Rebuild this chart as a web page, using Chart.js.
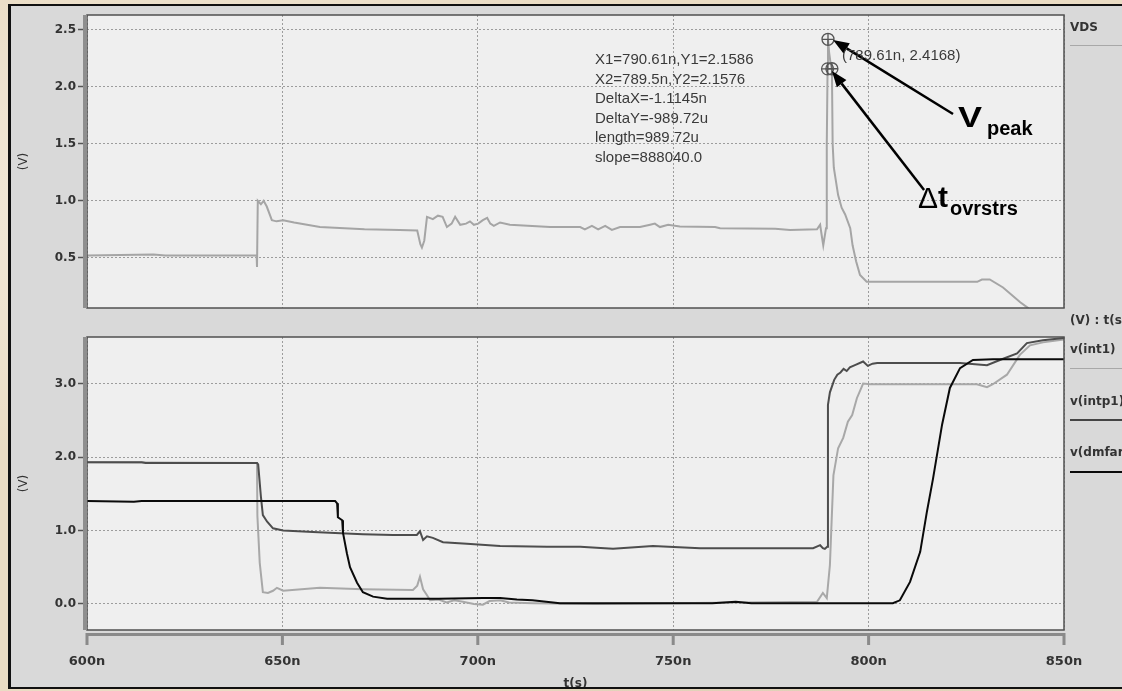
<!DOCTYPE html>
<html>
<head>
<meta charset="utf-8">
<script src="https://cdn.jsdelivr.net/npm/chart.js@4.4.1/dist/chart.umd.min.js"></script>
<style>
  html, body { margin: 0; padding: 0; }
  body {
    width: 1122px; height: 691px; overflow: hidden; position: relative;
    background:
      radial-gradient(ellipse at 20% 30%, rgba(255,255,255,0.5), rgba(255,255,255,0) 40%),
      radial-gradient(ellipse at 70% 80%, rgba(190,170,140,0.35), rgba(190,170,140,0) 45%),
      #eadcc4;
    font-family: 'Liberation Sans', Arial, sans-serif;
  }
  #panel { position: absolute; left: 8px; top: 4px; width: 1120px; height: 685px; background: #d9d9d9; }
  #frame { position: absolute; left: 8px; top: 4px; width: 1120px; height: 685px; box-sizing: border-box;
           border: 2px solid #111; border-left-width: 3px; pointer-events: none; }
  canvas { position: absolute; left: 0; }
  #topCanvas { top: 0; }
  #botCanvas { top: 320px; }
  .txt { position: absolute; white-space: nowrap; line-height: 1; }
  .readout { position: absolute; left: 595px; top: 49px; font-size: 15px; line-height: 19.5px; color: #3a3a3a; white-space: pre; }
  .leg { position: absolute; left: 1070px; font: bold 12px 'DejaVu Sans', sans-serif; line-height: 1; color: #333; white-space: nowrap; }
  .legline { position: absolute; left: 1070px; width: 60px; }
</style>
</head>
<body>
<div id="panel"></div>
<canvas id="topCanvas" width="1122" height="320"></canvas>
<canvas id="botCanvas" width="1122" height="371"></canvas>

<div class="readout" id="readout"></div>
<div class="txt" style="left:842px; top:47px; font-size:15px; color:#3a3a3a;">(789.61n, 2.4168)</div>

<div class="txt" style="left:958px; top:102px; font-size:30px; font-weight:bold; color:#000; transform:scaleX(1.2); transform-origin:left top;">V</div>
<div class="txt" style="left:987px; top:118px; font-size:20px; font-weight:bold; color:#000;">peak</div>
<div class="txt" style="left:918px; top:183px; font-size:30px; color:#000;">&Delta;</div>
<div class="txt" style="left:938px; top:182px; font-size:30px; font-weight:bold; color:#000;">t</div>
<div class="txt" style="left:950px; top:198px; font-size:20px; font-weight:bold; color:#000;">ovrstrs</div>

<div id="legend"></div>
<div id="frame"></div>

<script>
// ---- axis ticks ----
const xTicks = [600, 650, 700, 750, 800, 850];
const xTickLabels = ['600n', '650n', '700n', '750n', '800n', '850n'];
const topYTicks = [0.5, 1.0, 1.5, 2.0, 2.5];
const botYTicks = [0.0, 1.0, 2.0, 3.0];

// ---- VDS (top panel), time in ns ----
const vdsT = [
  600, 617, 620, 643.4, 643.5, 643.7, 644.5, 645.2, 646.0, 647.3,
  648.5, 650.2, 653.0, 659.6, 671.0, 680.0, 684.5, 685.3, 685.7, 686.3,
  687.0, 688.5, 689.8, 691.0, 692.1, 693.3, 694.2, 695.5, 697.0, 698.0,
  699.0, 700.1, 701.3, 702.4, 703.2, 704.1, 705.7, 708.2, 718.5, 726.2,
  727.4, 729.2, 730.8, 732.6, 734.3, 736.4, 741.5, 744.1, 745.3, 746.6,
  748.7, 751.7, 760.7, 762.0, 776.1, 779.9, 786.8, 787.6, 787.9, 788.4,
  789.1, 789.3, 789.5, 789.61, 789.9, 790.3, 790.61, 790.8, 791.1, 792.2,
  793.1, 794.0, 795.3, 795.9, 796.8, 797.8, 799.5, 810.0, 827.8, 829.0,
  831.0, 834.4, 838.8, 840.8, 841.5
];
const vdsV = [
  0.52, 0.53, 0.52, 0.52, 0.42, 1.00, 0.97, 1.00, 0.95, 0.83,
  0.82, 0.83, 0.81, 0.77, 0.75, 0.745, 0.74, 0.62, 0.59, 0.65,
  0.86, 0.84, 0.87, 0.86, 0.77, 0.80, 0.86, 0.79, 0.80, 0.82,
  0.79, 0.80, 0.83, 0.85, 0.80, 0.78, 0.81, 0.79, 0.77, 0.77,
  0.75, 0.78, 0.75, 0.78, 0.745, 0.77, 0.77, 0.79, 0.80, 0.77,
  0.79, 0.775, 0.77, 0.76, 0.755, 0.745, 0.75, 0.79, 0.72, 0.61,
  0.76, 1.50, 2.1576, 2.4168, 2.30, 2.20, 2.1586, 1.50, 1.29, 1.05,
  0.94, 0.88, 0.76, 0.61, 0.47, 0.35, 0.29, 0.29, 0.29, 0.31,
  0.31, 0.24, 0.11, 0.06, 0.0
];

// cursor points
const cursorT = [789.61, 789.5, 790.61];
const cursorV = [2.4168, 2.1576, 2.1586];

// annotation arrows (data coords)
const arrowTailT = [821.6, 814.2];
const arrowTailV = [1.762, 1.095];
const arrowHeadT = [790.9, 790.6];
const arrowHeadV = [2.411, 2.139];

const readoutLines = [
  'X1=790.61n,Y1=2.1586',
  'X2=789.5n,Y2=2.1576',
  'DeltaX=-1.1145n',
  'DeltaY=-989.72u',
  'length=989.72u',
  'slope=888040.0'
];

// ---- bottom panel ----
const int1T = [
  600, 643.5, 643.6, 644.2, 645.0, 646.3, 647.6, 648.6, 650.2, 659.6,
  670.6, 683.4, 684.5, 685.2, 686.0, 687.0, 687.8, 690.0, 692.0, 694.0,
  696.2, 699.0, 701.3, 703.0, 705.7, 708.0, 714.1, 730.0, 786.8, 788.3,
  789.3, 790.1, 791.0, 792.2, 793.5, 794.7, 795.8, 797.0, 798.6, 800.4,
  827.7, 830.3, 831.8, 835.4, 838.7, 841.3, 844.6, 850
];
const int1V = [
  1.93, 1.92, 1.20, 0.56, 0.16, 0.15, 0.18, 0.22, 0.18, 0.22,
  0.20, 0.19, 0.25, 0.37, 0.20, 0.12, 0.05, 0.06, 0.02, 0.05,
  0.03, 0.00, -0.01, 0.04, 0.05, 0.02, 0.01, 0.00, 0.03, 0.15,
  0.08, 0.53, 1.75, 2.12, 2.26, 2.48, 2.57, 2.80, 3.00, 2.99,
  2.99, 2.95, 2.99, 3.12, 3.39, 3.52, 3.56, 3.60
];

const intp1T = [
  600, 614, 615, 643.5, 643.8, 644.5, 645.0, 646.1, 647.6, 650.2,
  657.8, 670.6, 678.3, 684.4, 685.2, 686.0, 687.0, 688.5, 691.1, 697.2,
  705.7, 717.7, 726.2, 734.6, 744.8, 756.9, 772.2, 785.8, 787.6, 788.3,
  788.8, 789.4, 789.6, 790.1, 791.2, 792.0, 792.8, 793.6, 794.4, 795.2,
  796.5, 798.6, 799.8, 801.0, 802.2, 823.4, 830.3, 833.6, 838.0, 840.5,
  844.6, 850
];
const intp1V = [
  1.93, 1.93, 1.92, 1.92, 1.90, 1.46, 1.21, 1.12, 1.03, 1.00,
  0.98, 0.95, 0.94, 0.94, 0.99, 0.87, 0.92, 0.90, 0.84, 0.82,
  0.79, 0.78, 0.78, 0.75, 0.79, 0.76, 0.76, 0.76, 0.80, 0.76,
  0.75, 0.78, 2.71, 2.88, 3.05, 3.12, 3.15, 3.20, 3.17, 3.22,
  3.25, 3.30, 3.24, 3.27, 3.28, 3.28, 3.25, 3.32, 3.41, 3.55,
  3.59, 3.62
];

const dmfarT = [
  600, 612, 614, 663.5, 664.0, 664.2, 665.3, 665.5, 666.5, 667.3,
  669.1, 670.6, 673.2, 676.8, 683.4, 690.0, 701.3, 705.7, 710.0, 714.0,
  721.0, 760.0, 766.0, 770.0, 806.2, 808.0, 810.6, 813.2, 814.9, 816.5,
  818.8, 820.8, 823.4, 826.7, 831.8, 850
];
const dmfarV = [
  1.40, 1.39, 1.40, 1.40, 1.37, 1.18, 1.14, 0.97, 0.69, 0.50,
  0.29, 0.16, 0.10, 0.07, 0.07, 0.07, 0.08, 0.08, 0.06, 0.05,
  0.01, 0.01, 0.03, 0.01, 0.01, 0.05, 0.30, 0.71, 1.25, 1.71,
  2.44, 2.94, 3.21, 3.32, 3.33, 3.33
];

const legendItems = [
  { label: 'VDS', y: 21, lineY: 45, color: '#a8a8a8', w: 1 },
  { label: '(V) : t(s)', y: 314, lineY: null },
  { label: 'v(int1)', y: 343, lineY: 368, color: '#a8a8a8', w: 1.5 },
  { label: 'v(intp1)', y: 395, lineY: 419, color: '#444', w: 2 },
  { label: 'v(dmfar)', y: 446, lineY: 471, color: '#0a0a0a', w: 2 }
];

const pts = (ts, vs) => ts.map((t, i) => ({ x: t, y: vs[i] }));

// ---- text bits ----
document.getElementById('readout').textContent = readoutLines.join('\n');
const legEl = document.getElementById('legend');
legendItems.forEach(it => {
    const d = document.createElement('div');
    d.className = 'leg';
    d.style.top = it.y + 'px';
    d.textContent = it.label;
    legEl.appendChild(d);
    if (it.lineY !== null) {
        const l = document.createElement('div');
        l.className = 'legline';
        l.style.top = it.lineY + 'px';
        l.style.borderTop = it.w + 'px solid ' + it.color;
        legEl.appendChild(l);
    }
});

// ── plot background, frame and the bottom time axis bar ──
const framePlugin = {
    id: 'frame',
    beforeDraw(chart) {
        const { ctx, chartArea: a } = chart;
        ctx.save();
        ctx.fillStyle = '#efefef';
        ctx.fillRect(a.left, a.top, a.right - a.left, a.bottom - a.top);
        ctx.restore();
    },
    afterDraw(chart, args, opts) {
        const { ctx, chartArea: a } = chart;
        ctx.save();
        ctx.strokeStyle = '#505050';
        ctx.lineWidth = 1.5;
        ctx.strokeRect(a.left, a.top, a.right - a.left, a.bottom - a.top);
        ctx.fillStyle = '#8f8f8f';
        ctx.fillRect(a.left - 4, a.top, 4, a.bottom - a.top);
        if (opts.axisBar) {
            const xs = chart.scales.x;
            ctx.fillStyle = '#8a8a8a';
            ctx.fillRect(a.left - 1, a.bottom + 3, a.right - a.left + 2, 3);
            xTicks.forEach(v => {
                const px = xs.getPixelForValue(v);
                ctx.fillRect(px - 1.5, a.bottom + 3, 3, 12);
            });
        }
        ctx.restore();
    }
};

// ── arrows pointing at the cursor markers ──
const arrowPlugin = {
    id: 'arrows',
    afterDraw(chart) {
        const { ctx, scales: { x, y } } = chart;
        ctx.save();
        ctx.strokeStyle = '#000';
        ctx.fillStyle = '#000';
        ctx.lineWidth = 2.5;
        arrowHeadT.forEach((t, i) => {
            const x1 = x.getPixelForValue(arrowTailT[i]), y1 = y.getPixelForValue(arrowTailV[i]);
            const x2 = x.getPixelForValue(t), y2 = y.getPixelForValue(arrowHeadV[i]);
            const ang = Math.atan2(y2 - y1, x2 - x1);
            const L = 16, W = 6;
            const bx = x2 - L * Math.cos(ang), by = y2 - L * Math.sin(ang);
            ctx.beginPath(); ctx.moveTo(x1, y1); ctx.lineTo(bx, by); ctx.stroke();
            ctx.beginPath();
            ctx.moveTo(x2, y2);
            ctx.lineTo(bx + W * Math.sin(ang), by - W * Math.cos(ang));
            ctx.lineTo(bx - W * Math.sin(ang), by + W * Math.cos(ang));
            ctx.closePath();
            ctx.fill();
        });
        ctx.restore();
    }
};

const gridCol = '#9c9c9c';
const tickFont = { family: 'DejaVu Sans', size: 12, weight: 'bold' };

function yScale(min, max, ticks) {
    return {
        type: 'linear', min, max,
        afterBuildTicks: s => { s.ticks = ticks.map(v => ({ value: v })); },
        afterFit: s => { s.width = 87; },
        ticks: { font: tickFont, color: '#333', padding: 2, callback: v => Number(v).toFixed(1) },
        grid: { color: gridCol, lineWidth: 1, drawTicks: true, tickLength: 9, tickColor: '#555', tickWidth: 1.5 },
        border: { display: false, dash: [2, 2] },
        title: { display: true, text: '(V)', color: '#333', font: { family: 'DejaVu Sans', size: 12 }, padding: { top: 17, bottom: 0 } }
    };
}

const common = {
    responsive: false, maintainAspectRatio: false, animation: false, devicePixelRatio: 1,
    events: [],
    plugins: { legend: { display: false }, tooltip: { enabled: false } }
};

new Chart(document.getElementById('topCanvas'), {
    type: 'line',
    data: {
        datasets: [
            { label: 'cursor', data: pts(cursorT, cursorV), showLine: false, pointStyle: 'circle', pointRadius: 6,
              pointBorderColor: '#555', pointBackgroundColor: 'rgba(0,0,0,0)', pointBorderWidth: 1.3 },
            { label: 'cursor+', data: pts(cursorT, cursorV), showLine: false, pointStyle: 'cross', pointRadius: 6,
              pointBorderColor: '#555', pointBorderWidth: 1.3 },
            { label: 'VDS', data: pts(vdsT, vdsV), borderColor: '#a5a5a5', borderWidth: 2, pointRadius: 0, tension: 0, clip: 0 }
        ]
    },
    options: {
        ...common,
        layout: { padding: { top: 15, right: 58, bottom: 0, left: 0 } },
        plugins: { ...common.plugins, frame: { axisBar: false } },
        scales: {
            x: {
                type: 'linear', min: 600, max: 850,
                afterBuildTicks: s => { s.ticks = xTicks.map(v => ({ value: v })); },
                afterFit: s => { s.height = 12; },
                ticks: { display: false },
                grid: { color: gridCol, lineWidth: 1, drawTicks: false },
                border: { display: false, dash: [2, 2] }
            },
            y: yScale(0.06, 2.63, topYTicks)
        }
    },
    plugins: [framePlugin, arrowPlugin]
});

new Chart(document.getElementById('botCanvas'), {
    type: 'line',
    data: {
        datasets: [
            { label: 'v(dmfar)', data: pts(dmfarT, dmfarV), borderColor: '#0a0a0a', borderWidth: 2, pointRadius: 0, tension: 0, clip: 0 },
            { label: 'v(intp1)', data: pts(intp1T, intp1V), borderColor: '#4d4d4d', borderWidth: 2, pointRadius: 0, tension: 0, clip: 0 },
            { label: 'v(int1)', data: pts(int1T, int1V), borderColor: '#a8a8a8', borderWidth: 2, pointRadius: 0, tension: 0, clip: 0 }
        ]
    },
    options: {
        ...common,
        layout: { padding: { top: 17, right: 58, bottom: 0, left: 0 } },
        plugins: { ...common.plugins, frame: { axisBar: true } },
        scales: {
            x: {
                type: 'linear', min: 600, max: 850,
                afterBuildTicks: s => { s.ticks = xTicks.map(v => ({ value: v })); },
                afterFit: s => { s.height = 61; },
                ticks: {
                    font: { family: 'DejaVu Sans', size: 13, weight: 'bold' }, color: '#333', padding: 24,
                    maxRotation: 0, autoSkip: false,
                    callback: v => xTickLabels[xTicks.indexOf(v)]
                },
                grid: { color: gridCol, lineWidth: 1, drawTicks: false },
                border: { display: false, dash: [2, 2] },
                title: { display: true, text: 't(s)', color: '#333', font: { family: 'DejaVu Sans', size: 12, weight: 'bold' }, padding: { top: 0, bottom: 0 } }
            },
            y: yScale(-0.354, 3.633, botYTicks)
        }
    },
    plugins: [framePlugin]
});
</script>
</body>
</html>
